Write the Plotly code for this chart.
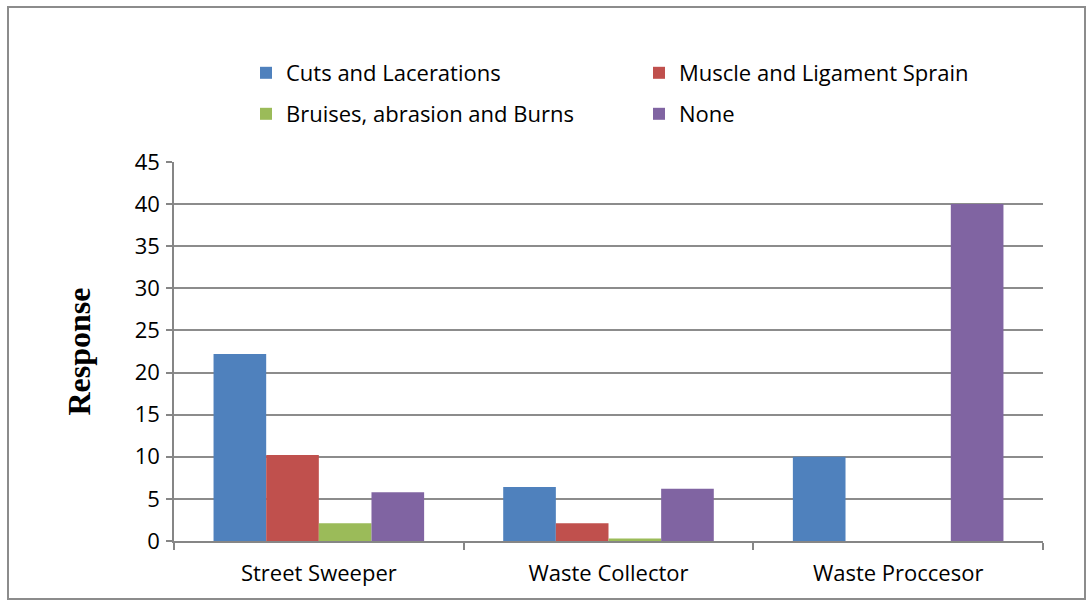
import plotly.graph_objects as go

categories = ["Street Sweeper", "Waste Collector", "Waste Proccesor"]
series_names = ["Cuts and Lacerations", "Muscle and Ligament Sprain",
                "Bruises, abrasion and Burns", "None"]
cuts = [22.2, 6.4, 10.0]
muscle = [10.2, 2.1, 0.0]
bruises = [2.1, 0.3, 0.0]
none_vals = [5.8, 6.2, 40.0]
y_ticks = [0, 5, 10, 15, 20, 25, 30, 35, 40, 45]

colors = ["#4F81BD", "#C0504D", "#9BBB59", "#8064A2"]
legends = ["legend", "legend", "legend2", "legend2"]
values = [cuts, muscle, bruises, none_vals]

fig = go.Figure()
for name, vals, col, lg in zip(series_names, values, colors, legends):
    fig.add_trace(go.Bar(x=categories, y=vals, name=name, marker_color=col,
                         marker_line_width=0, legend=lg))

W, H = 1087, 602
ml, mr, mt, mb = 174, 44, 162, 61
pw, ph = W - ml - mr, H - mt - mb

def px_x(p):
    return (p - ml) / pw

def px_y(p):
    return (H - mb - p) / ph

font_main = "'Open Sans', 'Noto Sans', sans-serif"
leg_common = dict(orientation="h", xanchor="left", yanchor="top",
                  entrywidth=348, entrywidthmode="pixels",
                  font=dict(size=22, family=font_main),
                  bgcolor="rgba(0,0,0,0)", itemclick=False, itemwidth=30)

fig.update_layout(
    width=W, height=H,
    margin=dict(l=ml, r=mr, t=mt, b=mb),
    paper_bgcolor="white", plot_bgcolor="white",
    barmode="group", bargap=0.273, bargroupgap=0,
    font=dict(family=font_main, size=22, color="#000000"),
    legend=dict(x=px_x(246), y=px_y(52), **leg_common),
    legend2=dict(x=px_x(246), y=px_y(93), **leg_common),
    showlegend=True,
    xaxis=dict(showline=True, linecolor="#868686", linewidth=1.5,
               ticks="outside", tickson="boundaries", ticklen=7, tickcolor="#868686",
               tickwidth=1.5, showgrid=False, tickfont=dict(size=22, family=font_main),
               ticklabelstandoff=12, zeroline=False),
    yaxis=dict(range=[0, 45], tickvals=y_ticks, showline=True, linecolor="#868686",
               linewidth=1.5, ticks="outside", ticklen=6, tickcolor="#868686", tickwidth=1.5,
               showgrid=True, gridcolor="#8C8C8C", gridwidth=1.5, zeroline=False,
               tickfont=dict(size=22, family=font_main), ticklabelstandoff=2,
               title=dict(text="<b>Response</b>",
                          font=dict(family="'Liberation Serif', 'Times New Roman', serif", size=32),
                          standoff=34)),
    shapes=[dict(type="rect", xref="paper", yref="paper",
                 x0=px_x(8), x1=px_x(1085), y0=px_y(599), y1=px_y(7),
                 line=dict(color="#8C8C8C", width=2), fillcolor="rgba(0,0,0,0)", layer="below")],
)

fig.write_html("out.html", config={"displayModeBar": False},
               post_script="document.body.style.margin='0';")
